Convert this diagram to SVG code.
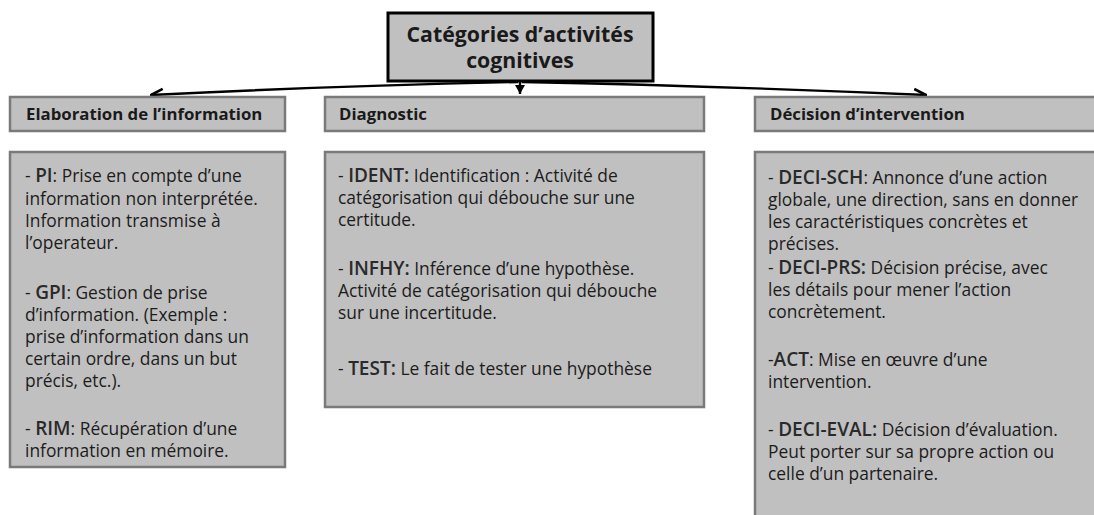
<svg xmlns="http://www.w3.org/2000/svg" width="1094" height="515" viewBox="0 0 1094 515">
  <defs>
    <marker id="chev" viewBox="0 0 14 14" refX="13" refY="7" markerWidth="14" markerHeight="14" markerUnits="userSpaceOnUse" orient="auto">
      <path d="M1,1.5 L13,7 L1,12.5" fill="none" stroke="#000" stroke-width="2.6" stroke-linejoin="miter"/>
    </marker>
    <marker id="vee" viewBox="0 0 12 12" refX="6" refY="11" markerWidth="12" markerHeight="12" markerUnits="userSpaceOnUse" orient="0">
      <path d="M1,2 L6,11 L11,2 Z" fill="#000"/>
    </marker>
  </defs>
  <style>
    .box { fill: #c0c0c0; stroke: #7a7a7a; stroke-width: 2.5; }
    .title-box { fill: #c0c0c0; stroke: #000; stroke-width: 3; }
    .title { font-family: "Open Sans", "Liberation Sans", sans-serif; font-weight: 700; font-size: 21.3px; fill: #1a1a1a; text-anchor: middle; }
    .head { font-family: "Open Sans", "Liberation Sans", sans-serif; font-weight: 700; font-size: 16.8px; fill: #1a1a1a; }
    .body { font-family: "Open Sans", "Liberation Sans", sans-serif; font-size: 17.4px; fill: #1c1c1c; }
    .code { font-weight: 600; font-size: 19px; fill: #2a2a2a; }
    .link { fill: none; stroke: #000; stroke-width: 2.4; }
  </style>

  <rect width="1094" height="515" fill="#fff"/>

  <!-- root node -->
  <g id="root">
    <rect class="title-box" x="388" y="13" width="265" height="68"/>
    <text class="title" x="520" y="42">Catégories d’activités</text>
    <text class="title" x="520" y="68">cognitives</text>
  </g>

  <!-- connectors from root to the three categories -->
  <g id="connectors">
    <path class="link" d="M518,82 Q330,86 151,95" marker-end="url(#chev)"/>
    <path class="link" d="M522,82 Q720,86 926,95" marker-end="url(#chev)"/>
    <path class="link" d="M520,82 L520,94" marker-end="url(#vee)"/>
  </g>

  <!-- category: information processing -->
  <g id="elaboration">
    <rect class="box" x="10" y="97" width="275" height="34"/>
    <text class="head" x="26" y="120">Elaboration de l’information</text>
    <rect class="box" x="10" y="152" width="275" height="315"/>
    <text class="body">
      <tspan x="25" y="182">- <tspan class="code">PI</tspan>: Prise en compte d’une</tspan>
      <tspan x="25" y="205">information non interprétée.</tspan>
      <tspan x="25" y="227">Information transmise à</tspan>
      <tspan x="25" y="249">l’operateur.</tspan>
      <tspan x="25" y="299">- <tspan class="code">GPI</tspan>: Gestion de prise</tspan>
      <tspan x="25" y="321">d’information. (Exemple :</tspan>
      <tspan x="25" y="343">prise d’information dans un</tspan>
      <tspan x="25" y="365">certain ordre, dans un but</tspan>
      <tspan x="25" y="387">précis, etc.).</tspan>
      <tspan x="25" y="435">- <tspan class="code">RIM</tspan>: Récupération d’une</tspan>
      <tspan x="25" y="457">information en mémoire.</tspan>
    </text>
  </g>

  <!-- category: diagnosis -->
  <g id="diagnostic">
    <rect class="box" x="325" y="97" width="379" height="34"/>
    <text class="head" x="339" y="120">Diagnostic</text>
    <rect class="box" x="325" y="152" width="379" height="255"/>
    <text class="body">
      <tspan x="338" y="182">- <tspan class="code">IDENT:</tspan> Identification : Activité de</tspan>
      <tspan x="338" y="204">catégorisation qui débouche sur une</tspan>
      <tspan x="338" y="226">certitude.</tspan>
      <tspan x="338" y="275">- <tspan class="code">INFHY:</tspan> Inférence d’une hypothèse.</tspan>
      <tspan x="338" y="297">Activité de catégorisation qui débouche</tspan>
      <tspan x="338" y="319">sur une incertitude.</tspan>
      <tspan x="338" y="375">- <tspan class="code">TEST:</tspan> Le fait de tester une hypothèse</tspan>
    </text>
  </g>

  <!-- category: intervention decision -->
  <g id="decision">
    <rect class="box" x="755" y="97" width="345" height="34"/>
    <text class="head" x="770" y="120">Décision d’intervention</text>
    <rect class="box" x="755" y="152" width="345" height="370"/>
    <text class="body">
      <tspan x="768" y="184">- <tspan class="code">DECI-SCH</tspan>: Annonce d’une action</tspan>
      <tspan x="768" y="206">globale, une direction, sans en donner</tspan>
      <tspan x="768" y="228">les caractéristiques concrètes et</tspan>
      <tspan x="768" y="250">précises.</tspan>
      <tspan x="768" y="274">- <tspan class="code">DECI-PRS:</tspan> Décision précise, avec</tspan>
      <tspan x="768" y="296">les détails pour mener l’action</tspan>
      <tspan x="768" y="318">concrètement.</tspan>
      <tspan x="768" y="366">-<tspan class="code">ACT</tspan>: Mise en œuvre d’une</tspan>
      <tspan x="768" y="388">intervention.</tspan>
      <tspan x="768" y="436">- <tspan class="code">DECI-EVAL:</tspan> Décision d’évaluation.</tspan>
      <tspan x="768" y="458">Peut porter sur sa propre action ou</tspan>
      <tspan x="768" y="480">celle d’un partenaire.</tspan>
    </text>
  </g>
</svg>
